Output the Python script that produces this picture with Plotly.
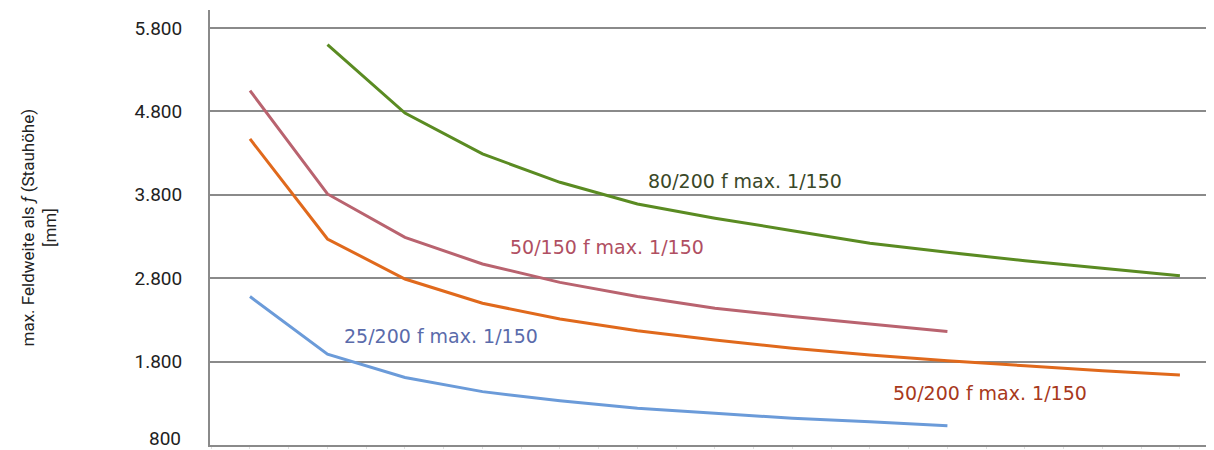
import plotly.graph_objects as go

# span index (evenly spaced categories, no labels shown on the chart)
s_80_200_x = list(range(1, 13))
s_80_200 = [5600, 4780, 4290, 3950, 3690, 3520, 3370, 3220, 3110, 3010, 2920, 2830]

s_50_150_x = list(range(0, 10))
s_50_150 = [5050, 3810, 3290, 2970, 2750, 2580, 2440, 2340, 2250, 2160]

s_50_200_x = list(range(0, 13))
s_50_200 = [4470, 3270, 2790, 2500, 2310, 2170, 2060, 1960, 1880, 1810, 1750, 1690, 1640]

s_25_200_x = list(range(0, 10))
s_25_200 = [2580, 1890, 1610, 1440, 1330, 1240, 1180, 1120, 1080, 1030]

y_tickvals = [800, 1800, 2800, 3800, 4800, 5800]
y_ticktext = ["800", "1.800", "2.800", "3.800", "4.800", "5.800"]

series = [
    ("80/200 f max. 1/150", s_80_200_x, s_80_200, "#5a8b22"),
    ("50/150 f max. 1/150", s_50_150_x, s_50_150, "#b9636f"),
    ("50/200 f max. 1/150", s_50_200_x, s_50_200, "#e0691c"),
    ("25/200 f max. 1/150", s_25_200_x, s_25_200, "#6b9bd9"),
]

fig = go.Figure()
for name, xs, ys, color in series:
    fig.add_trace(go.Scatter(x=xs, y=ys, mode="lines", name=name,
                             line=dict(color=color, width=3)))

# curve labels
labels = [
    ("80/200 f max. 1/150", 6.39, 3965, "#3a4828"),
    ("50/150 f max. 1/150", 4.61, 3175, "#b04f62"),
    ("25/200 f max. 1/150", 2.46, 2105, "#5a6bab"),
    ("50/200 f max. 1/150", 9.55, 1425, "#a8391c"),
]
for text, lx, ly, color in labels:
    fig.add_annotation(x=lx, y=ly, text=text, showarrow=False,
                       font=dict(family="DejaVu Sans, Verdana", size=19, color=color))

# y axis title, placed by hand
fig.add_annotation(xref="paper", yref="paper", x=-172 / 1004, y=0.5,
                   xanchor="center", yanchor="middle", textangle=-90, showarrow=False,
                   text="max. Feldweite als <i>ƒ</i> (Stauhöhe)<br>[mm]",
                   font=dict(family="Roboto", size=17, color="#222"))

# lowest tick label sits a bit above its gridline so it is not cut at the bottom edge
fig.add_annotation(xref="paper", yref="paper", x=-27 / 1004, y=0,
                   xanchor="right", yanchor="bottom", yshift=-7, showarrow=False,
                   text=y_ticktext[0], font=dict(family="Roboto", size=19, color="#222"))
axis_ticktext = [""] + y_ticktext[1:]

# page body has an 8px margin, so the figure is 8px smaller than the window
fig.update_layout(
    width=1206, height=442,
    margin=dict(l=202, r=0, t=2, b=5, autoexpand=False),
    paper_bgcolor="white", plot_bgcolor="white",
    showlegend=False,
    font=dict(family="Roboto", color="#222"),
)
fig.update_xaxes(
    range=[-0.516, 12.44], showgrid=False, zeroline=False,
    showline=True, linecolor="#8a8a8a", linewidth=2,
    ticks="outside", ticklen=2, tickcolor="#e0e0e0", dtick=0.5,
    showticklabels=False, automargin=False,
)
fig.update_yaxes(
    range=[800, 6016], tickvals=y_tickvals, ticktext=axis_ticktext,
    showgrid=True, gridcolor="#8a8a8a", gridwidth=2, zeroline=False,
    showline=True, linecolor="#8a8a8a", linewidth=2,
    ticks="", ticklabelstandoff=22, automargin=False,
    tickfont=dict(family="Roboto", size=19, color="#222"),
)

fig.write_html("out.html")
